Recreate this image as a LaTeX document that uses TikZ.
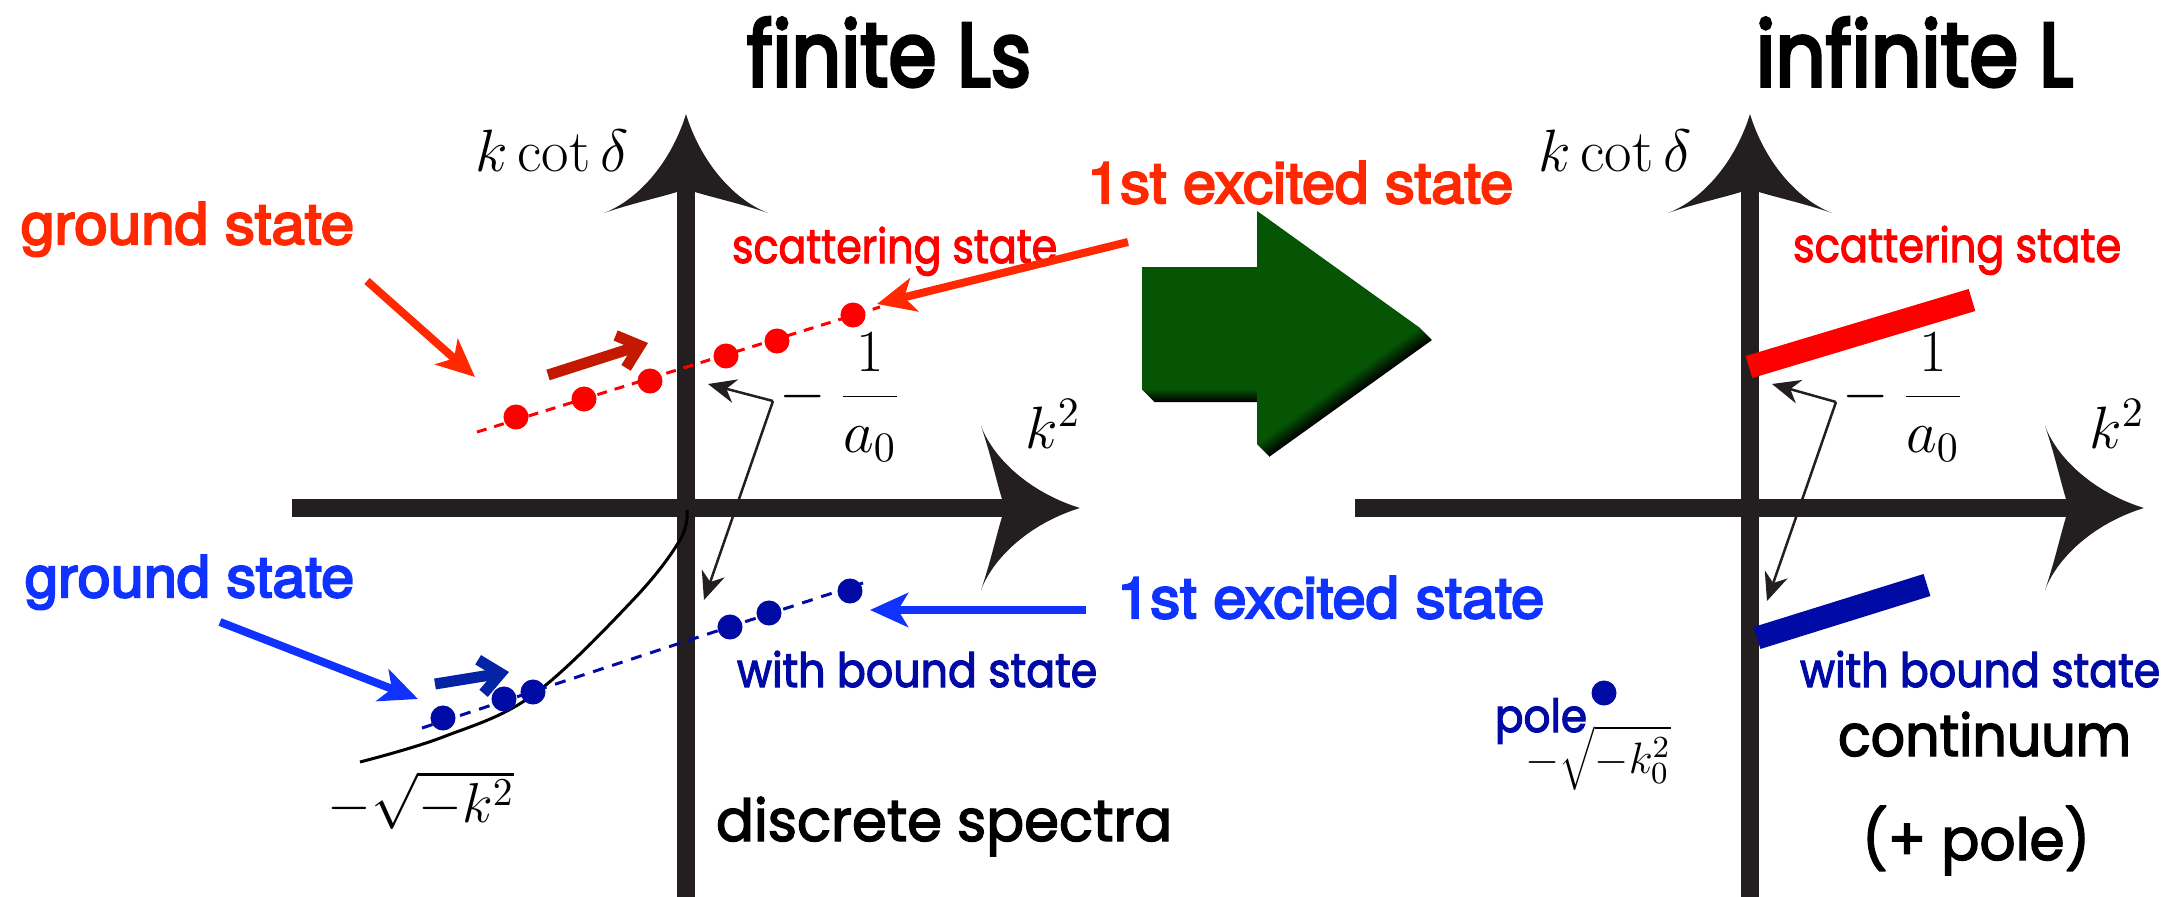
\RequirePackage{fix-cm}
\documentclass[tikz,border=0pt]{standalone}
\usepackage{fontspec}
\usepackage{graphicx}
\usetikzlibrary{arrows.meta}
\newfontfamily\futt[FakeBold=4]{Poppins}
\newfontfamily\futm[FakeBold=2.5]{Poppins}
\newfontfamily\helv[FakeBold=3.5]{TeX Gyre Heros}
\definecolor{axc}{RGB}{35,31,32}
\definecolor{ored}{RGB}{255,40,0}
\definecolor{pred}{RGB}{255,0,0}
\definecolor{dred}{RGB}{195,25,0}
\definecolor{lblue}{RGB}{15,50,255}
\definecolor{dblue}{RGB}{0,10,165}
\definecolor{dkarr}{RGB}{5,35,165}
\definecolor{grn}{RGB}{5,85,5}
\newcommand{\hfit}[2]{\resizebox{#1}{\height}{#2}}
\tikzset{
  axisline/.style={draw=axc, line width=0.18cm},
  axhead/.pic={\fill[pic actions] (0,0) .. controls (-14,46) and (-46,85) .. (-82,99)
      .. controls (-56,90) and (-25,83) .. (-9,78) -- (9,78)
      .. controls (25,83) and (56,90) .. (82,99)
      .. controls (46,85) and (14,46) .. (0,0) -- cycle;},
  garrow/.pic={\fill[pic actions] (1142,267) -- (1257,267) -- (1257,211) -- (1420,328)
      -- (1257,445) -- (1257,390) -- (1142,390) -- cycle;},
  lab/.style={anchor=base west, inner sep=0pt, outer sep=0pt},
  mlab/.style={anchor=base, inner sep=0pt, outer sep=0pt, font=\fontsize{17}{20}\selectfont},
  ftitle/.style={font=\futt\fontsize{25.5}{30}\selectfont},
  fbig/.style={font=\helv\fontsize{16.3}{19}\selectfont},
  fsmall/.style={font=\futm\fontsize{13.5}{16}\selectfont},
  fblack/.style={font=\futm\fontsize{16.5}{20}\selectfont},
  rdot/.style={circle, fill=pred, minimum size=0.25cm, inner sep=0pt},
  bdot/.style={circle, fill=dblue, minimum size=0.25cm, inner sep=0pt},
  rdash/.style={draw=pred, line width=0.03cm, dash pattern=on 0.1cm off 0.08cm},
  bdash/.style={draw=dblue, line width=0.03cm, dash pattern=on 0.11cm off 0.09cm},
  labarrow/.style={line width=0.08cm, -{Stealth[length=0.38cm, width=0.34cm, inset=0.1cm]}},
  fatarrow/.style={line width=0.11cm, -{Straight Barb[length=0.2cm, width=0.34cm]}},
  thinarrow/.style={draw=axc, line width=0.025cm, -{Stealth[length=0.28cm, width=0.24cm, inset=0.09cm]}},
  bar/.style={line width=0.23cm},
}
\begin{document}
\begin{tikzpicture}[x=0.01cm, y=-0.01cm]
\useasboundingbox (0,0) rectangle (2171,897);

% ---------- titles ----------
\node[lab, ftitle] (t1) at (747,86) {\hfit{2.84cm}{finite Ls}};
\node[lab, ftitle] (t2) at (1756,86) {\hfit{3.17cm}{infinite L}};

% ---------- green block arrow with shadow ----------
\foreach \k [evaluate=\k as \p using {int(100-8*\k)}] in {12,11,...,1}
  \pic[fill=grn!\p!black] at (\k,\k) {garrow};
\pic[fill=grn] at (0,0) {garrow};

% ---------- left axes ----------
\draw[axisline] (686,897) -- (686,190);
\pic[fill=axc] at (686,114) {axhead};
\draw[axisline] (292,508) -- (1004,508);
\pic[fill=axc, rotate=-90] at (1080,508) {axhead};

% ---------- right axes ----------
\draw[axisline] (1750,897) -- (1750,190);
\pic[fill=axc] at (1750,114) {axhead};
\draw[axisline] (1355,508) -- (2068,508);
\pic[fill=axc, rotate=-90] at (2144,508) {axhead};

% ---------- axis labels ----------
\node[mlab] (kc1) at (552,172) {$k\cot\delta$};
\node[mlab] (kc2) at (1615,172) {$k\cot\delta$};
\node[mlab] (ks1) at (1053,448) {$k^2$};
\node[mlab] (ks2) at (2117,448) {$k^2$};
\node[inner sep=0pt, font=\fontsize{17}{20}\selectfont] (a1) at (840,397) {$-\mkern4mu{\displaystyle\frac{1}{a_0}}$};
\node[inner sep=0pt, font=\fontsize{17}{20}\selectfont] (a2) at (1903,397) {$-\mkern4mu{\displaystyle\frac{1}{a_0}}$};

% ---------- -sqrt(-k^2) curve ----------
\draw[black, line width=0.03cm] plot[smooth, tension=0.6] coordinates
  {(360,762) (443,737) (533,695) (633,600) (680,540) (687,510)};
\node[anchor=base, inner sep=0pt, font=\fontsize{16}{19}\selectfont] (sq) at (421,822) {$-\sqrt{-k^2}$};

% ---------- red scattering states (left) ----------
\draw[rdash] (477,432) -- (880,307);
\node[rdot] (r1) at (516,417) {};
\node[rdot] (r2) at (584,399) {};
\node[rdot] (r3) at (650,381) {};
\node[rdot] (r4) at (726,356) {};
\node[rdot] (r5) at (777,341) {};
\node[rdot] (r6) at (853,315) {};
\coordinate (dr0) at (548,375);
\coordinate (dr1) at (648,343);
\draw[fatarrow, dred] (dr0) -- (dr1);

% ---------- blue bound states (left) ----------
\draw[bdash] (422,728) -- (863,583);
\node[bdot] (b1) at (443,718) {};
\node[bdot] (b2) at (504,699) {};
\node[bdot] (b3) at (533,692) {};
\node[bdot] (b4) at (730,627) {};
\node[bdot] (b5) at (769,613) {};
\node[bdot] (b6) at (850,591) {};
\coordinate (db0) at (435,684);
\coordinate (db1) at (509,672);
\draw[fatarrow, dkarr] (db0) -- (db1);

% ---------- left labels ----------
\node[lab, fbig, text=ored] (gs1) at (21,244) {\hfit{3.33cm}{ground state}};
\node[lab, fsmall, text=pred] (ss1) at (732,263) {\hfit{3.25cm}{scattering state}};
\node[lab, fbig, text=ored] (ex1) at (1087,203) {\hfit{4.26cm}{1st excited state}};
\node[lab, fbig, text=lblue] (gs2) at (25,597) {\hfit{3.29cm}{ground state}};
\node[lab, fbig, text=lblue] (ex2) at (1117,618) {\hfit{4.27cm}{1st excited state}};
\node[lab, fsmall, text=dblue] (wb1) at (737,687) {\hfit{3.60cm}{with bound state}};
\node[lab, fblack] (ds) at (716,841) {\hfit{4.56cm}{discrete spectra}};

% label arrows
\coordinate (ga0) at (367,281);  \coordinate (ga1) at (475,377);
\draw[labarrow, draw=ored, fill=ored] (ga0) -- (ga1);
\coordinate (ea0) at (1128,242); \coordinate (ea1) at (877,304);
\draw[labarrow, draw=ored, fill=ored] (ea0) -- (ea1);
\coordinate (gb0) at (220,622);  \coordinate (gb1) at (418,699);
\draw[labarrow, draw=lblue, fill=lblue] (gb0) -- (gb1);
\coordinate (eb0) at (1086,610); \coordinate (eb1) at (870,610);
\draw[labarrow, draw=lblue, fill=lblue] (eb0) -- (eb1);

% -1/a0 pointers (left)
\coordinate (p1) at (773,401);
\coordinate (p1u) at (708,384);
\coordinate (p1d) at (704,600);
\draw[thinarrow] (p1) -- (p1u);
\draw[thinarrow] (p1) -- (p1d);

% ---------- right graph contents ----------
\coordinate (rb0) at (1749,367); \coordinate (rb1) at (1972,300);
\draw[bar, pred] (rb0) -- (rb1);
\coordinate (bb0) at (1757,638); \coordinate (bb1) at (1927,585);
\draw[bar, dblue] (bb0) -- (bb1);
\coordinate (p2) at (1836,402);
\coordinate (p2u) at (1772,384);
\coordinate (p2d) at (1767,601);
\draw[thinarrow] (p2) -- (p2u);
\draw[thinarrow] (p2) -- (p2d);

\node[lab, fsmall, text=pred] (ss2) at (1793,262) {\hfit{3.28cm}{scattering state}};
\node[lab, fsmall, text=dblue] (wb2) at (1800,687) {\hfit{3.60cm}{with bound state}};
\node[lab, fblack] (co) at (1838,756) {\hfit{2.93cm}{continuum}};
\node[lab, fblack] (pp) at (1862,860) {\hfit{2.28cm}{(+ pole)}};

% pole
\node[bdot] (pd) at (1604,693) {};
\node[lab, font=\futm\fontsize{13}{15}\selectfont, text=dblue] (pl) at (1495,732) {\hfit{0.92cm}{pole}};
\node[anchor=base, inner sep=0pt, font=\fontsize{12.5}{15}\selectfont] (sq0) at (1598,773) {$-\sqrt{-k_0^2}$};
\end{tikzpicture}
\end{document}
